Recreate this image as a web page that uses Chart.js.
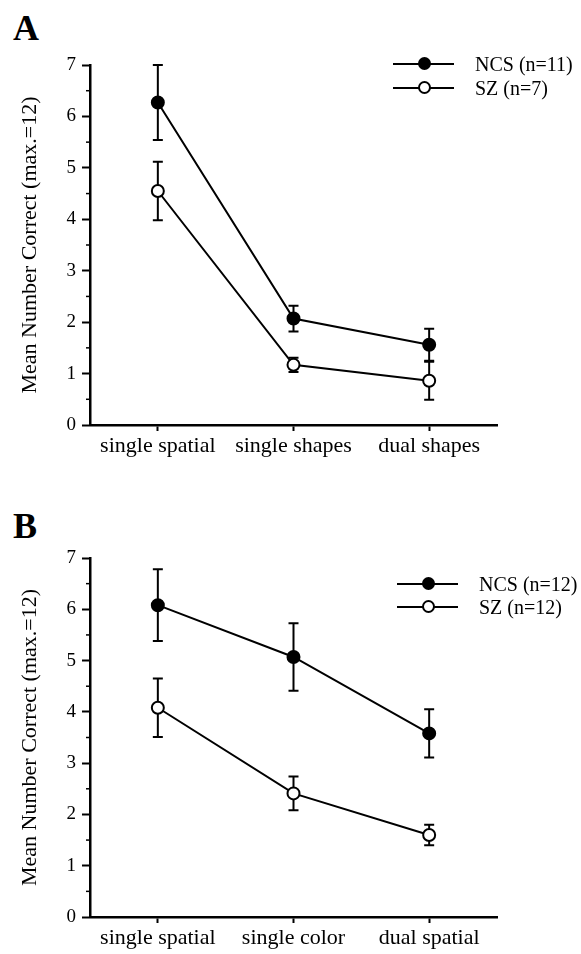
<!DOCTYPE html>
<html>
<head>
<meta charset="utf-8">
<script src="https://cdn.jsdelivr.net/npm/chart.js@4"></script>
<style>
  body { margin: 0; background: #fff; width: 581px; height: 954px; position: relative; overflow: hidden; }
  .panel { position: absolute; left: 0; width: 581px; height: 477px; }
  .letter { position: absolute; left: 13px; font: bold 36px 'Liberation Serif', 'Times New Roman', serif; line-height: 1; color: #000; }
  .legend { position: absolute; font: 20px 'Liberation Serif', 'Times New Roman', serif; color: #000; }
  .legend .row { position: absolute; left: 0; height: 24px; width: 200px; }
  .legend .ln { position: absolute; left: 0; top: 11px; width: 61px; height: 2px; background: #000; }
  .legend .dot { position: absolute; left: 25px; top: 5px; width: 9px; height: 9px; border: 2px solid #000; border-radius: 50%; }
  .legend .txt { position: absolute; left: 82px; top: 0; line-height: 24px; white-space: nowrap; }
</style>
</head>
<body>
<div class="letter" style="top:10px">A</div>
<div class="letter" style="top:508px">B</div>

<div class="panel" style="top:0"><canvas id="chart_a"></canvas></div>
<div class="panel" style="top:477px"><canvas id="chart_b"></canvas></div>

<div class="legend" style="left:393px; top:52px">
  <div class="row" style="top:0"><div class="ln"></div><div class="dot" style="background:#000"></div><div class="txt">NCS (n=11)</div></div>
  <div class="row" style="top:24px"><div class="ln"></div><div class="dot" style="background:#fff"></div><div class="txt">SZ (n=7)</div></div>
</div>
<div class="legend" style="left:397px; top:572px">
  <div class="row" style="top:0"><div class="ln"></div><div class="dot" style="background:#000"></div><div class="txt">NCS (n=12)</div></div>
  <div class="row" style="top:23px"><div class="ln"></div><div class="dot" style="background:#fff"></div><div class="txt">SZ (n=12)</div></div>
</div>

<script>
// パネルA
const labelsA = ['single spatial', 'single shapes', 'dual shapes'];
const ncsA = [6.27, 2.07, 1.56];
const ncsErrA = [0.73, 0.25, 0.31];
const szA = [4.55, 1.17, 0.86];
const szErrA = [0.57, 0.14, 0.37];

// パネルB
const labelsB = ['single spatial', 'single color', 'dual spatial'];
const ncsB = [6.08, 5.07, 3.58];
const ncsErrB = [0.70, 0.66, 0.47];
const szB = [4.08, 2.41, 1.60];
const szErrB = [0.57, 0.33, 0.20];

const yTitle = 'Mean Number Correct (max.=12)';
const FONT = "'Liberation Serif', 'Times New Roman', serif";

// エラーバーを描くプラグイン (点の下に描く)
const errorBarPlugin = {
  id: 'errorBars',
  beforeDatasetsDraw(chart) {
    const ctx = chart.ctx;
    const x = chart.scales.x;
    const y = chart.scales.y;
    ctx.save();
    ctx.strokeStyle = '#000';
    ctx.lineWidth = 2;
    chart.data.datasets.forEach((ds) => {
      ds.data.forEach((v, i) => {
        const px = x.getPixelForValue(i);
        const top = y.getPixelForValue(v + ds.errors[i]);
        const bot = y.getPixelForValue(v - ds.errors[i]);
        ctx.beginPath();
        ctx.moveTo(px, top); ctx.lineTo(px, bot);
        ctx.moveTo(px - 5, top); ctx.lineTo(px + 5, top);
        ctx.moveTo(px - 5, bot); ctx.lineTo(px + 5, bot);
        ctx.stroke();
      });
    });
    ctx.restore();
  }
};

// y軸の補助目盛(0.5刻み)を短く描く
const minorTickPlugin = {
  id: 'minorTicks',
  afterDraw(chart) {
    const ctx = chart.ctx;
    const y = chart.scales.y;
    const ticks = y.ticks;
    ctx.save();
    ctx.strokeStyle = '#000';
    ctx.lineWidth = 1.5;
    for (let i = 0; i < ticks.length - 1; i++) {
      const py = y.getPixelForValue((ticks[i].value + ticks[i + 1].value) / 2);
      ctx.beginPath();
      ctx.moveTo(y.right - 4, py);
      ctx.lineTo(y.right, py);
      ctx.stroke();
    }
    ctx.restore();
  }
};

function makeConfig(labels, ncs, ncsErr, sz, szErr, padTop, xHeight) {
  return {
    type: 'line',
    data: {
      labels: labels,
      datasets: [
        {
          label: 'NCS',
          data: ncs,
          errors: ncsErr,
          borderColor: '#000',
          borderWidth: 2,
          backgroundColor: '#000',
          pointRadius: 6,
          pointBorderWidth: 2,
          pointBorderColor: '#000',
          pointBackgroundColor: '#000',
          tension: 0,
        },
        {
          label: 'SZ',
          data: sz,
          errors: szErr,
          borderColor: '#000',
          borderWidth: 2,
          backgroundColor: '#fff',
          pointRadius: 6,
          pointBorderWidth: 2,
          pointBorderColor: '#000',
          pointBackgroundColor: '#fff',
          tension: 0,
        },
      ],
    },
    options: {
      responsive: true,
      maintainAspectRatio: false,
      animation: false,
      layout: { padding: { top: padTop, right: 84, left: 0, bottom: 0 } },
      scales: {
        x: {
          offset: true,
          grid: { drawOnChartArea: false, tickLength: 6, tickColor: '#000', tickWidth: 2 },
          border: { color: '#000', width: 2.5 },
          ticks: { color: '#000', font: { family: FONT, size: 22 }, padding: 2, maxRotation: 0, autoSkip: false },
          afterFit(scale) { scale.height = xHeight; },
        },
        y: {
          min: 0,
          max: 7,
          grid: { drawOnChartArea: false, tickLength: 8, tickColor: '#000', tickWidth: 2 },
          border: { color: '#000', width: 2.5 },
          ticks: {
            stepSize: 1,
            autoSkip: false,
            color: '#000',
            padding: 6,
            font: { family: FONT, size: 19 },
          },
          title: {
            display: true,
            text: yTitle,
            color: '#000',
            font: { family: FONT, size: 22 },
            padding: { top: 17, bottom: 0 },
          },
          afterFit(scale) { scale.width = 90; },
        },
      },
      plugins: {
        legend: { display: false },
        tooltip: { enabled: false },
      },
    },
    plugins: [errorBarPlugin, minorTickPlugin],
  };
}

new Chart(document.getElementById('chart_a'), makeConfig(labelsA, ncsA, ncsErrA, szA, szErrA, 65, 52));
new Chart(document.getElementById('chart_b'), makeConfig(labelsB, ncsB, ncsErrB, szB, szErrB, 81, 37));
</script>
</body>
</html>
